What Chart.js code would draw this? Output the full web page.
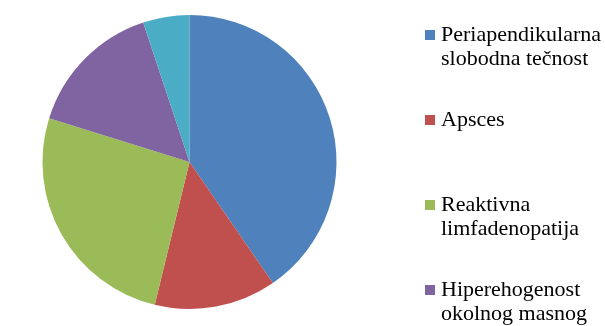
<!DOCTYPE html>
<html lang="sr">
<head>
  <meta charset="UTF-8" />
  <title>Pie chart</title>
  <script src="https://cdn.jsdelivr.net/npm/chart.js"></script>
  <style>
    html, body {
      margin: 0;
      padding: 0;
      background: #ffffff;
      overflow: hidden;
    }
    .wrap {
      width: 605px;
      height: 326px;
      position: relative;
      overflow: hidden;
    }
    /* legend on the right, spaced like the original and cut off at the bottom */
    .legend-item {
      position: absolute;
      left: 425px;
      font-family: "Liberation Serif", "DejaVu Serif", serif;
      font-size: 22px;
      line-height: 23.5px;
      color: #000;
      white-space: nowrap;
    }
    .legend-item .box {
      position: absolute;
      left: 0;
      top: 8px;
      width: 10px;
      height: 10px;
    }
    .legend-item .txt {
      margin-left: 16px;
    }
  </style>
</head>
<body>
<div class="wrap">
  <canvas id="pieChart" width="605" height="326"></canvas>
  <div id="legend"></div>
</div>

<script>
  // data (share of the pie, %)
  const categories = [
    ['Periapendikularna', 'slobodna tečnost'],
    ['Apsces'],
    ['Reaktivna', 'limfadenopatija'],
    ['Hiperehogenost', 'okolnog masnog', 'tkiva'],
    ['Ostalo']
  ];
  const values = [40.4, 13.4, 26.0, 15.1, 5.1];
  const colors = ['#4F81BD', '#C0504D', '#9BBB59', '#8064A2', '#4BACC6'];

  // build the legend
  const legend = document.getElementById('legend');
  categories.forEach((lines, i) => {
    const item = document.createElement('div');
    item.className = 'legend-item';
    item.style.top = (22 + i * 85) + 'px';
    const box = document.createElement('span');
    box.className = 'box';
    box.style.background = colors[i];
    const txt = document.createElement('div');
    txt.className = 'txt';
    txt.innerHTML = lines.join('<br>');
    item.appendChild(box);
    item.appendChild(txt);
    legend.appendChild(item);
  });

  new Chart(document.getElementById('pieChart'), {
    type: 'pie',
    data: {
      labels: categories.map(c => c.join(' ')),
      datasets: [{
        data: values,
        backgroundColor: colors,
        borderWidth: 0
      }]
    },
    options: {
      responsive: false,
      animation: false,
      layout: {
        padding: { left: 42, right: 268, top: 15, bottom: 17 }
      },
      plugins: {
        legend: { display: false },
        tooltip: { enabled: false }
      }
    }
  });
</script>
</body>
</html>
